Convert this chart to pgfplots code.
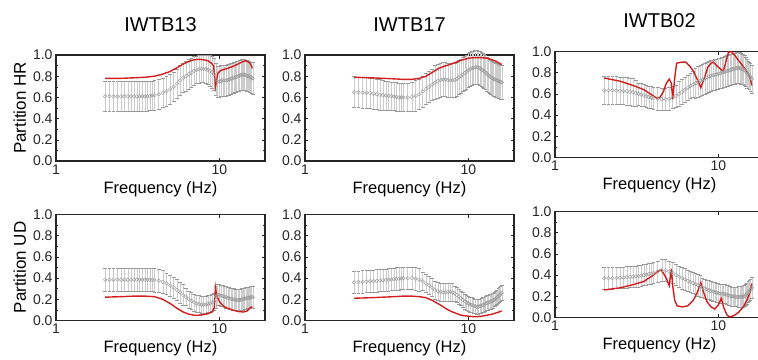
\documentclass[border=0pt]{standalone}
\usepackage{fontspec}
\setmainfont{Liberation Sans}
\usepackage{pgfplots}
\usepackage{pgfplotstable}
\pgfplotsset{compat=1.18}
\definecolor{redl}{RGB}{210,30,30}

\pgfplotstableread{
f m s
2.00 .61 .14
2.125 .61 .14
2.25 .61 .14
2.375 .61 .14
2.50 .61 .14
2.625 .61 .14
2.75 .61 .14
2.875 .61 .14
3.00 .61 .14
3.125 .61 .14
3.25 .61 .14
3.375 .61 .14
3.50 .61 .14
3.625 .612 .14
3.75 .615 .14
3.875 .617 .14
4.00 .62 .14
4.25 .63 .14
4.50 .645 .14
4.75 .66 .14
5.00 .68 .14
5.25 .70 .14
5.50 .73 .14
5.75 .76 .14
6.00 .785 .14
6.25 .80 .14
6.50 .82 .14
6.75 .835 .135
7.00 .85 .135
7.25 .86 .13
7.50 .865 .13
7.75 .87 .13
8.00 .87 .13
8.25 .865 .135
8.50 .86 .14
8.75 .85 .145
9.00 .84 .15
9.25 .82 .15
9.50 .77 .15
9.75 .75 .145
10.00 .75 .145
10.25 .755 .145
10.50 .76 .145
10.75 .76 .145
11.00 .76 .145
11.25 .765 .145
11.50 .77 .145
11.75 .775 .145
12.00 .78 .145
12.25 .785 .145
12.50 .79 .145
12.75 .795 .145
13.00 .80 .145
13.25 .805 .145
13.50 .81 .145
13.75 .815 .145
14.00 .815 .145
14.25 .815 .145
14.50 .81 .145
14.75 .805 .145
15.00 .80 .145
15.25 .795 .145
15.50 .79 .145
15.75 .785 .15
16.00 .78 .15
}\tA

\pgfplotstableread{
f m s
2.00 .65 .145
2.125 .648 .145
2.25 .645 .145
2.375 .643 .145
2.50 .64 .145
2.625 .635 .145
2.75 .63 .145
2.875 .625 .145
3.00 .62 .145
3.125 .617 .14
3.25 .615 .135
3.375 .612 .135
3.50 .61 .135
3.625 .605 .135
3.75 .60 .135
3.875 .60 .135
4.00 .60 .135
4.25 .60 .135
4.50 .605 .135
4.75 .615 .145
5.00 .63 .145
5.25 .655 .145
5.50 .68 .145
5.75 .70 .145
6.00 .72 .145
6.25 .74 .16
6.50 .755 .16
6.75 .765 .16
7.00 .77 .16
7.25 .77 .16
7.50 .765 .16
7.75 .76 .16
8.00 .76 .16
8.25 .765 .16
8.50 .775 .16
8.75 .79 .16
9.00 .80 .16
9.25 .815 .16
9.50 .83 .16
9.75 .84 .16
10.00 .855 .16
10.25 .865 .16
10.50 .875 .16
10.75 .88 .16
11.00 .885 .16
11.25 .885 .16
11.50 .88 .16
11.75 .875 .16
12.00 .865 .16
12.25 .855 .16
12.50 .845 .16
12.75 .835 .16
13.00 .82 .16
13.25 .81 .16
13.50 .80 .16
13.75 .79 .16
14.00 .78 .16
14.25 .775 .16
14.50 .77 .16
14.75 .765 .16
15.00 .76 .16
15.25 .755 .16
15.50 .75 .16
15.75 .745 .16
16.00 .74 .16
}\tB

\pgfplotstableread{
f m s
2.00 .635 .13
2.125 .635 .13
2.25 .635 .13
2.375 .633 .13
2.50 .63 .13
2.625 .628 .13
2.75 .625 .13
2.875 .62 .13
3.00 .615 .13
3.125 .607 .12
3.25 .60 .105
3.375 .593 .105
3.50 .585 .105
3.625 .578 .105
3.75 .57 .105
3.875 .565 .105
4.00 .56 .105
4.25 .555 .105
4.50 .55 .105
4.75 .55 .105
5.00 .555 .105
5.25 .565 .105
5.50 .58 .105
5.75 .60 .12
6.00 .62 .12
6.25 .64 .12
6.50 .66 .12
6.75 .675 .12
7.00 .69 .12
7.25 .70 .145
7.50 .715 .145
7.75 .725 .145
8.00 .735 .145
8.25 .745 .145
8.50 .755 .145
8.75 .765 .145
9.00 .77 .145
9.25 .775 .145
9.50 .78 .145
9.75 .785 .145
10.00 .79 .145
10.25 .795 .145
10.50 .80 .145
10.75 .805 .145
11.00 .81 .145
11.25 .815 .145
11.50 .82 .145
11.75 .825 .145
12.00 .83 .145
12.25 .835 .145
12.50 .84 .145
12.75 .84 .145
13.00 .845 .145
13.25 .845 .145
13.50 .845 .145
13.75 .84 .145
14.00 .835 .14
14.25 .83 .14
14.50 .82 .14
14.75 .81 .135
15.00 .79 .135
15.25 .78 .13
15.50 .77 .13
15.75 .755 .13
16.00 .74 .13
}\tC

\pgfplotstableread{
f m s
2.00 .385 .11
2.125 .385 .11
2.25 .385 .11
2.375 .385 .11
2.50 .385 .11
2.625 .385 .11
2.75 .385 .11
2.875 .385 .11
3.00 .385 .11
3.125 .385 .11
3.25 .385 .11
3.375 .385 .11
3.50 .385 .11
3.625 .385 .11
3.75 .385 .11
3.875 .383 .11
4.00 .38 .11
4.25 .375 .11
4.50 .365 .11
4.75 .35 .10
5.00 .33 .10
5.25 .31 .10
5.50 .29 .10
5.75 .265 .10
6.00 .24 .10
6.25 .22 .08
6.50 .20 .08
6.75 .185 .08
7.00 .17 .08
7.25 .16 .08
7.50 .155 .08
7.75 .15 .08
8.00 .15 .08
8.25 .15 .08
8.50 .155 .08
8.75 .16 .08
9.00 .17 .08
9.25 .18 .08
9.50 .22 .10
9.75 .245 .10
10.00 .24 .10
10.25 .235 .10
10.50 .23 .10
10.75 .225 .10
11.00 .22 .10
11.25 .215 .10
11.50 .21 .10
11.75 .205 .10
12.00 .20 .10
12.25 .20 .10
12.50 .195 .10
12.75 .195 .10
13.00 .195 .10
13.25 .195 .10
13.50 .195 .10
13.75 .20 .10
14.00 .20 .10
14.25 .205 .10
14.50 .21 .10
14.75 .21 .10
15.00 .215 .10
15.25 .215 .10
15.50 .22 .10
15.75 .22 .10
16.00 .22 .10
}\tD

\pgfplotstableread{
f m s
2.00 .36 .105
2.125 .363 .105
2.25 .365 .105
2.375 .368 .105
2.50 .37 .105
2.625 .373 .105
2.75 .375 .105
2.875 .378 .105
3.00 .38 .105
3.125 .383 .105
3.25 .385 .105
3.375 .388 .105
3.50 .39 .105
3.625 .393 .105
3.75 .395 .105
3.875 .398 .105
4.00 .40 .105
4.25 .40 .105
4.50 .40 .105
4.75 .395 .105
5.00 .385 .105
5.25 .37 .085
5.50 .35 .085
5.75 .33 .085
6.00 .31 .085
6.25 .29 .085
6.50 .275 .085
6.75 .27 .085
7.00 .265 .085
7.25 .265 .085
7.50 .27 .085
7.75 .27 .085
8.00 .265 .085
8.25 .255 .07
8.50 .24 .07
8.75 .225 .07
9.00 .21 .07
9.25 .195 .07
9.50 .18 .07
9.75 .17 .07
10.00 .16 .07
10.25 .15 .07
10.50 .145 .07
10.75 .14 .07
11.00 .135 .07
11.25 .13 .07
11.50 .13 .07
11.75 .135 .07
12.00 .14 .07
12.25 .145 .07
12.50 .15 .07
12.75 .16 .07
13.00 .165 .07
13.25 .17 .07
13.50 .175 .07
13.75 .18 .07
14.00 .185 .07
14.25 .19 .07
14.50 .20 .07
14.75 .21 .07
15.00 .22 .07
15.25 .23 .07
15.50 .24 .07
15.75 .25 .07
16.00 .26 .07
}\tE

\pgfplotstableread{
f m s
2.00 .37 .10
2.125 .37 .10
2.25 .37 .10
2.375 .373 .10
2.50 .375 .10
2.625 .378 .10
2.75 .38 .10
2.875 .383 .10
3.00 .385 .10
3.125 .388 .10
3.25 .39 .10
3.375 .395 .10
3.50 .40 .10
3.625 .405 .10
3.75 .41 .10
3.875 .415 .10
4.00 .42 .10
4.25 .435 .10
4.50 .445 .10
4.75 .445 .10
5.00 .435 .10
5.25 .42 .10
5.50 .40 .10
5.75 .385 .10
6.00 .37 .10
6.25 .36 .10
6.50 .345 .10
6.75 .335 .10
7.00 .325 .10
7.25 .315 .10
7.50 .305 .10
7.75 .295 .10
8.00 .285 .09
8.25 .275 .09
8.50 .265 .09
8.75 .26 .09
9.00 .25 .09
9.25 .245 .09
9.50 .24 .09
9.75 .235 .09
10.00 .23 .09
10.25 .225 .09
10.50 .225 .09
10.75 .225 .09
11.00 .22 .09
11.25 .215 .09
11.50 .21 .09
11.75 .205 .09
12.00 .20 .09
12.25 .20 .09
12.50 .20 .09
12.75 .195 .09
13.00 .195 .09
13.25 .195 .10
13.50 .195 .10
13.75 .195 .10
14.00 .195 .10
14.25 .20 .10
14.50 .205 .10
14.75 .215 .10
15.00 .225 .10
15.25 .24 .10
15.50 .25 .10
15.75 .265 .10
16.00 .28 .10
}\tF

\pgfplotsset{
  panel/.style={
    scale only axis, width=209pt, height=106pt,
    xmin=1, xmax=19, ymin=0, ymax=1,
    xtick={1,10}, xticklabels={1,10}, xminorticks=false,
    ytick={0,0.2,0.4,0.6,0.8,1}, minor y tick num=1,
    yticklabel style={/pgf/number format/fixed, /pgf/number format/fixed zerofill, /pgf/number format/precision=1, /pgf/number format/assume math mode=true},
    tick label style={font=\fontsize{14}{16}\selectfont, text=black!85},
    axis line style={line width=1.1pt, black!85},
    tick style={black!85, line width=0.6pt},
    major tick length=3.5pt, minor tick length=2pt,
    title style={font=\fontsize{20}{24}\selectfont, yshift=14pt},
    xlabel={Frequency (Hz)},
    xlabel style={font=\fontsize{16.5}{20}\selectfont},
    ylabel style={font=\fontsize{17}{20}\selectfont},
    clip=false,
  },
  gb/.style={only marks, mark=o, mark size=1.8pt,
    mark options={draw=gray!75, line width=0.45pt},
    error bars/y dir=both, error bars/y explicit,
    error bars/error mark=-,
    error bars/error bar style={gray!40, line width=0.5pt},
    error bars/error mark options={rotate=90, gray!80, mark size=1.8pt, line width=0.5pt}},
  rl/.style={color=redl, line width=1.4pt, no markers},
}

\begin{document}
\begin{tikzpicture}
\useasboundingbox (0,0) rectangle (758pt,-359pt);

\begin{semilogxaxis}[panel, at={(56pt,-161pt)}, anchor=south west, title={IWTB13}, ylabel={Partition HR}]
\addplot[gb] table[x=f, y=m, y error=s] {\tA};
\addplot[rl] coordinates {(2.0,.78) (2.5,.78) (3.0,.785) (3.5,.79) (4.0,.80) (4.5,.82) (5.0,.845) (5.5,.88) (6.0,.915) (6.5,.94) (7.0,.955) (7.5,.96) (8.0,.955) (8.5,.945) (8.9,.925) (9.2,.90) (9.35,.80) (9.45,.70) (9.6,.76) (9.8,.83) (10.2,.855) (11.0,.87) (12.0,.89) (13.0,.915) (14.0,.94) (14.6,.945) (15.2,.93) (15.6,.905) (15.9,.875)};
\end{semilogxaxis}

\begin{semilogxaxis}[panel, at={(305pt,-161pt)}, anchor=south west, title={IWTB17}]
\addplot[gb] table[x=f, y=m, y error=s] {\tB};
\addplot[rl] coordinates {(2.0,.79) (2.5,.785) (3.0,.78) (3.5,.775) (4.0,.77) (4.5,.77) (5.0,.78) (5.5,.80) (6.0,.835) (6.5,.87) (7.0,.89) (7.5,.905) (8.0,.92) (8.5,.935) (9.0,.95) (9.5,.96) (10.0,.97) (11.0,.975) (12.0,.975) (13.0,.97) (14.0,.955) (15.0,.935) (16.0,.91)};
\end{semilogxaxis}

\begin{semilogxaxis}[panel, at={(555pt,-157.5pt)}, anchor=south west, title={IWTB02}]
\addplot[gb] table[x=f, y=m, y error=s] {\tC};
\addplot[rl] coordinates {(2.0,.75) (2.5,.72) (3.0,.68) (3.5,.64) (4.0,.58) (4.2,.56) (4.4,.57) (4.6,.62) (4.8,.70) (5.0,.74) (5.15,.70) (5.25,.55) (5.4,.75) (5.55,.89) (6.0,.90) (6.3,.90) (6.7,.86) (7.0,.82) (7.4,.74) (7.8,.66) (8.2,.75) (8.6,.85) (9.0,.89) (9.3,.90) (9.7,.87) (10.2,.84) (10.7,.81) (11.1,.90) (11.5,.99) (12.0,1.0) (12.5,.97) (13.2,.92) (14.0,.87) (14.8,.82) (15.4,.78) (15.8,.72) (16.0,.68)};
\end{semilogxaxis}

\begin{semilogxaxis}[panel, at={(56pt,-320.5pt)}, anchor=south west, ylabel={Partition UD}]
\addplot[gb] table[x=f, y=m, y error=s] {\tD};
\addplot[rl] coordinates {(2.0,.22) (2.5,.225) (3.0,.23) (3.5,.23) (4.0,.225) (4.5,.20) (5.0,.16) (5.5,.115) (6.0,.08) (6.5,.06) (7.0,.05) (7.5,.05) (8.0,.055) (8.5,.065) (9.0,.08) (9.3,.12) (9.45,.31) (9.6,.24) (10.0,.18) (10.5,.14) (11.0,.12) (12.0,.10) (13.0,.085) (14.0,.08) (14.8,.09) (15.4,.12) (15.9,.13)};
\end{semilogxaxis}

\begin{semilogxaxis}[panel, at={(305pt,-320.5pt)}, anchor=south west]
\addplot[gb] table[x=f, y=m, y error=s] {\tE};
\addplot[rl] coordinates {(2.0,.21) (2.5,.215) (3.0,.22) (3.5,.225) (4.0,.23) (4.5,.23) (5.0,.225) (5.5,.215) (6.0,.19) (6.5,.16) (7.0,.13) (7.5,.10) (8.0,.08) (8.5,.065) (9.0,.05) (9.5,.045) (10.0,.04) (11.0,.035) (12.0,.04) (13.0,.05) (14.0,.06) (15.0,.075) (16.0,.09)};
\end{semilogxaxis}

\begin{semilogxaxis}[panel, at={(555pt,-317.5pt)}, anchor=south west]
\addplot[gb] table[x=f, y=m, y error=s] {\tF};
\addplot[rl] coordinates {(2.0,.26) (2.5,.28) (3.0,.31) (3.5,.34) (4.0,.40) (4.3,.44) (4.45,.45) (4.6,.42) (4.8,.37) (5.0,.30) (5.1,.40) (5.15,.46) (5.25,.30) (5.4,.16) (5.6,.11) (6.0,.10) (6.5,.11) (7.0,.16) (7.4,.23) (7.8,.33) (8.1,.24) (8.5,.15) (9.0,.10) (9.5,.08) (10.0,.12) (10.4,.18) (10.8,.09) (11.3,.02) (11.8,.005) (12.5,.02) (13.3,.05) (14.2,.10) (15.0,.17) (15.6,.24) (16.0,.32)};
\end{semilogxaxis}
\end{tikzpicture}
\end{document}
